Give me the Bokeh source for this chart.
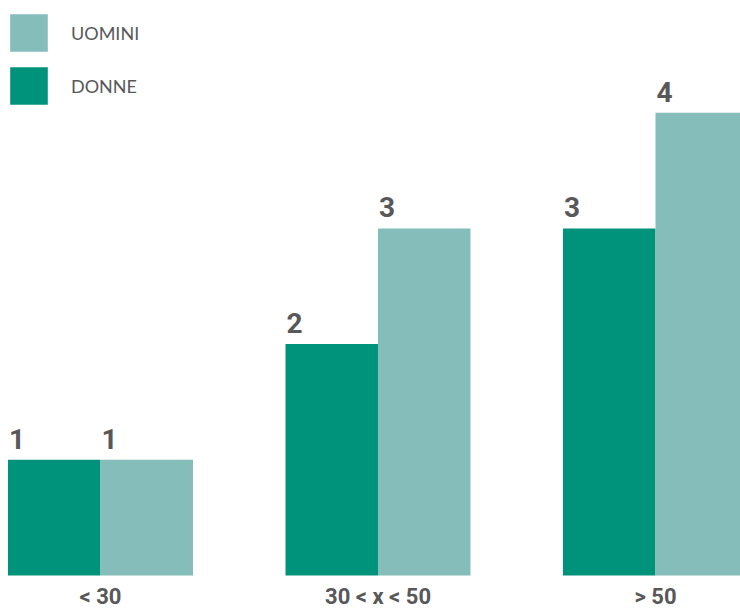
from bokeh.plotting import figure
from bokeh.models import Range1d, ColumnDataSource, Legend, LegendItem
from bokeh.core.properties import value
from bokeh.embed import file_html
from bokeh.resources import INLINE

categories = ["< 30", "30 < x < 50", "> 50"]
donne = [1, 2, 3]
uomini = [1, 3, 4]
series_names = ["UOMINI", "DONNE"]

DONNE_COLOR = "#00937B"
UOMINI_COLOR = "#84BDBA"
TEXT_COLOR = "#58585A"

xs = list(range(len(categories)))
bw = 1.0 / 3.0
src = ColumnDataSource(dict(
    x=xs,
    xd=[x - bw / 2 for x in xs],
    xu=[x + bw / 2 for x in xs],
    xdl=[x - bw for x in xs],
    xul=[x for x in xs],
    cat=categories,
    donne=donne,
    uomini=uomini,
    dl=[str(v) for v in donne],
    ul=[str(v) for v in uomini],
    zero=[0] * len(xs),
))

p = figure(width=740, height=610, output_backend="svg", toolbar_location=None,
           x_range=Range1d(-0.3604, 2.3063), y_range=Range1d(-0.3025, 4.97),
           min_border=0, outline_line_color=None)
p.axis.visible = False
p.grid.visible = False
p.background_fill_color = "white"
p.border_fill_color = "white"

rd = p.vbar(x="xd", top="donne", bottom=0, width=bw, source=src,
            fill_color=DONNE_COLOR, line_color=None)
ru = p.vbar(x="xu", top="uomini", bottom=0, width=bw, source=src,
            fill_color=UOMINI_COLOR, line_color=None)

p.text(x="xdl", y="donne", text="dl", source=src, x_offset=1, y_offset=-21,
       text_font=value("Roboto"), text_font_style="bold", text_font_size="28px",
       text_color=TEXT_COLOR, text_align="left", text_baseline="alphabetic")
p.text(x="xul", y="uomini", text="ul", source=src, x_offset=1, y_offset=-21,
       text_font=value("Roboto"), text_font_style="bold", text_font_size="28px",
       text_color=TEXT_COLOR, text_align="left", text_baseline="alphabetic")

p.text(x="x", y="zero", text="cat", source=src, y_offset=21,
       text_font=value("Roboto"), text_font_style="bold", text_font_size="22px",
       text_color=TEXT_COLOR, text_align="center", text_baseline="middle")

legend = Legend(items=[LegendItem(label=series_names[0], renderers=[ru]),
                       LegendItem(label=series_names[1], renderers=[rd])],
                location=(5, 501), orientation="vertical",
                glyph_width=47, glyph_height=47, label_standoff=19, spacing=6,
                padding=0, margin=0, border_line_alpha=0, background_fill_alpha=0,
                label_text_font="Lato", label_text_font_size="18px",
                label_text_color=TEXT_COLOR)
p.add_layout(legend, "center")

open("out.html", "w").write(file_html(p, INLINE))
